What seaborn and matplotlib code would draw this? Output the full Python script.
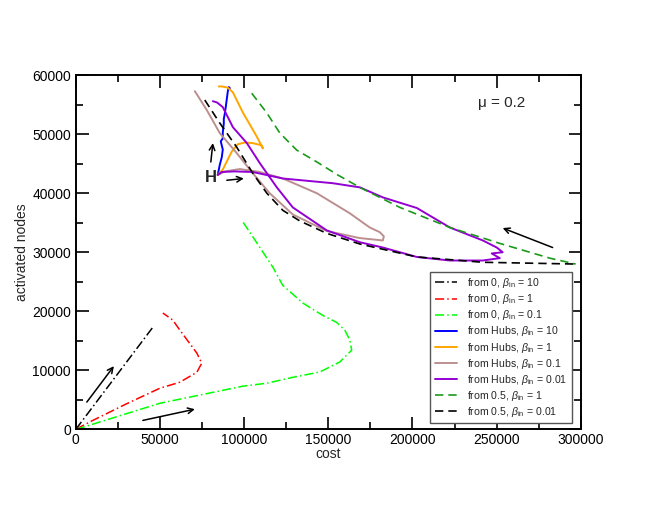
import numpy as np
import pandas as pd
import matplotlib
matplotlib.use("Agg")
import matplotlib.pyplot as plt
import seaborn as sns

# curves: (cost, activated nodes)
from0_b10_x = [0, 45500]
from0_b10_y = [0, 17200]

from0_b1_x = [0, 10100, 30000, 49900, 61800, 71900, 74800, 71900, 61800, 57600, 51700]
from0_b1_y = [0, 1500, 4300, 6950, 7970, 9660, 11200, 12900, 16800, 18500, 19700]

from0_b01_x = [0, 4200, 49900, 99200, 113500, 128900, 144900, 156800, 163900, 162800,
               159800, 155000, 146700, 134800, 122900, 117000, 110500, 104500, 98600]
from0_b01_y = [0, 340, 4400, 7300, 7800, 8800, 9700, 11400, 13400, 15100,
               16800, 18100, 19300, 21400, 24400, 27500, 30300, 32900, 35400]

hubs_b10_x = [84300, 85500, 86700, 87300, 86100, 87300, 87300, 87900, 87900, 88500,
              89100, 89700, 90300, 90900, 91500]
hubs_b10_y = [43100, 44800, 46100, 47400, 48800, 49300, 50300, 51800, 52600, 53500,
              54700, 56000, 57300, 58000, 57800]

hubs_b1_x = [84300, 87300, 89700, 92700, 96200, 100400, 105100, 110500, 111100,
             107500, 99200, 93300, 90300, 86700, 84900]
hubs_b1_y = [43100, 44000, 45400, 47100, 48300, 48600, 48500, 48100, 47600,
             49600, 53700, 57100, 57900, 58100, 58100]

hubs_b01_x = [84300, 88500, 97400, 109300, 123000, 143200, 162800, 174600, 180600, 183000,
              182400, 168700, 149100, 128900, 115200, 105100, 95600, 85500, 77800, 70700]
hubs_b01_y = [43100, 43700, 44100, 43600, 42500, 40000, 36600, 34200, 33400, 32700,
              32000, 32400, 33600, 36400, 40000, 43400, 46800, 50200, 54100, 57300]

hubs_b001_x = [84300, 86700, 94400, 105100, 123000, 152700, 168700, 182400, 202600, 222200,
               241800, 250100, 253600, 247100, 251900, 241800, 222200, 202600, 182400,
               168700, 149100, 128900, 119400, 109300, 101600, 93300, 87300, 83800, 81400]
hubs_b001_y = [43100, 43600, 43700, 43600, 42500, 41700, 41000, 39300, 37500, 34200,
               32000, 30800, 30000, 29800, 29000, 28600, 28600, 29200, 30800,
               31700, 33700, 37600, 41000, 45100, 48500, 51200, 54600, 55400, 55600]

half_b1_x = [104500, 113500, 121200, 131300, 143200, 155600, 168700, 192500, 222200,
             251900, 281600, 297000]
half_b1_y = [56950, 53600, 50200, 47300, 45300, 43100, 41000, 37600, 34200,
             31500, 29000, 28000]

half_b001_x = [76600, 85500, 95600, 105100, 113500, 123000, 133100, 149100, 168700,
               202600, 241800, 297000]
half_b001_y = [55800, 51900, 47800, 43400, 40000, 37100, 35300, 33200, 31400,
               29200, 28300, 28000]

sns.set_style("ticks")
plt.rcParams['font.family'] = ['Liberation Sans', 'DejaVu Sans']
plt.rcParams['mathtext.fontset'] = 'custom'
plt.rcParams['mathtext.rm'] = 'Liberation Sans'
plt.rcParams['mathtext.it'] = 'Liberation Sans:italic'

fig = plt.figure(figsize=(6.54, 5.05), dpi=100)
ax = fig.add_axes([0.116, 0.150, 0.772, 0.701])

curves = [
    (from0_b10_x, from0_b10_y, 'black', (0, (6, 2, 1, 2)), 1.1, r'from 0, $\beta_{\rm in}$ = 10'),
    (from0_b1_x, from0_b1_y, 'red', (0, (6, 2, 1, 2)), 1.1, r'from 0, $\beta_{\rm in}$ = 1'),
    (from0_b01_x, from0_b01_y, '#00ff00', (0, (6, 2, 1, 2)), 1.1, r'from 0, $\beta_{\rm in}$ = 0.1'),
    (hubs_b10_x, hubs_b10_y, '#0000ff', '-', 1.4, r'from Hubs, $\beta_{\rm in}$ = 10'),
    (hubs_b1_x, hubs_b1_y, '#ffa500', '-', 1.4, r'from Hubs, $\beta_{\rm in}$ = 1'),
    (hubs_b01_x, hubs_b01_y, '#bc8f8f', '-', 1.4, r'from Hubs, $\beta_{\rm in}$ = 0.1'),
    (hubs_b001_x, hubs_b001_y, '#9400d3', '-', 1.4, r'from Hubs, $\beta_{\rm in}$ = 0.01'),
    (half_b1_x, half_b1_y, '#1a9a1a', (0, (5, 3)), 1.2, r'from 0.5, $\beta_{\rm in}$ = 1'),
    (half_b001_x, half_b001_y, 'black', (0, (5, 3)), 1.2, r'from 0.5, $\beta_{\rm in}$ = 0.01'),
]

for xs, ys, color, ls, lw, label in curves:
    df = pd.DataFrame({'cost': xs, 'nodes': ys})
    sns.lineplot(data=df, x='cost', y='nodes', sort=False, estimator=None,
                 color=color, linestyle=ls, linewidth=lw, label=label, ax=ax)

# direction arrows
arrows = [
    ((6500, 4600), (22600, 10700)),
    ((39800, 1500), (70700, 3400)),
    ((80200, 45300), (81400, 48500)),
    ((89700, 42200), (99800, 42500)),
    ((283300, 30800), (253600, 34100)),
]
for tail, head in arrows:
    ax.annotate('', xy=head, xytext=tail,
                arrowprops=dict(arrowstyle='->', color='black', lw=1.1,
                                shrinkA=0, shrinkB=0))

ax.text(80000, 42600, 'H', fontsize=12, fontweight='bold', ha='center', va='center')
ax.text(253000, 55300, 'μ = 0.2', fontsize=11, ha='center', va='center')

ax.set_xlim(0, 300000)
ax.set_ylim(0, 60000)
ax.set_xticks(np.arange(0, 300001, 50000))
ax.set_yticks(np.arange(0, 60001, 10000))
ax.set_xticks(np.arange(25000, 300000, 50000), minor=True)
ax.set_yticks(np.arange(5000, 60000, 10000), minor=True)
ax.tick_params(which='both', direction='in', top=True, right=True, labelsize=10,
               width=1.2, colors='black')
ax.tick_params(which='major', length=9)
ax.tick_params(which='minor', length=5)
ax.tick_params(axis='x', pad=3)
for sp in ax.spines.values():
    sp.set_linewidth(1.4)
    sp.set_color('black')

ax.set_xlabel('cost', fontsize=10, labelpad=0)
ax.set_ylabel('activated nodes', fontsize=10, labelpad=2)

leg = ax.legend(loc='lower right', bbox_to_anchor=(0.982, 0.017), borderaxespad=0,
                fontsize=7.6, frameon=True, fancybox=False, framealpha=1,
                edgecolor='#555555', handlelength=2.1, handletextpad=1.0,
                labelspacing=0.2, borderpad=0.4)
leg.get_frame().set_linewidth(1.0)

fig.savefig('out.png', dpi=100)
